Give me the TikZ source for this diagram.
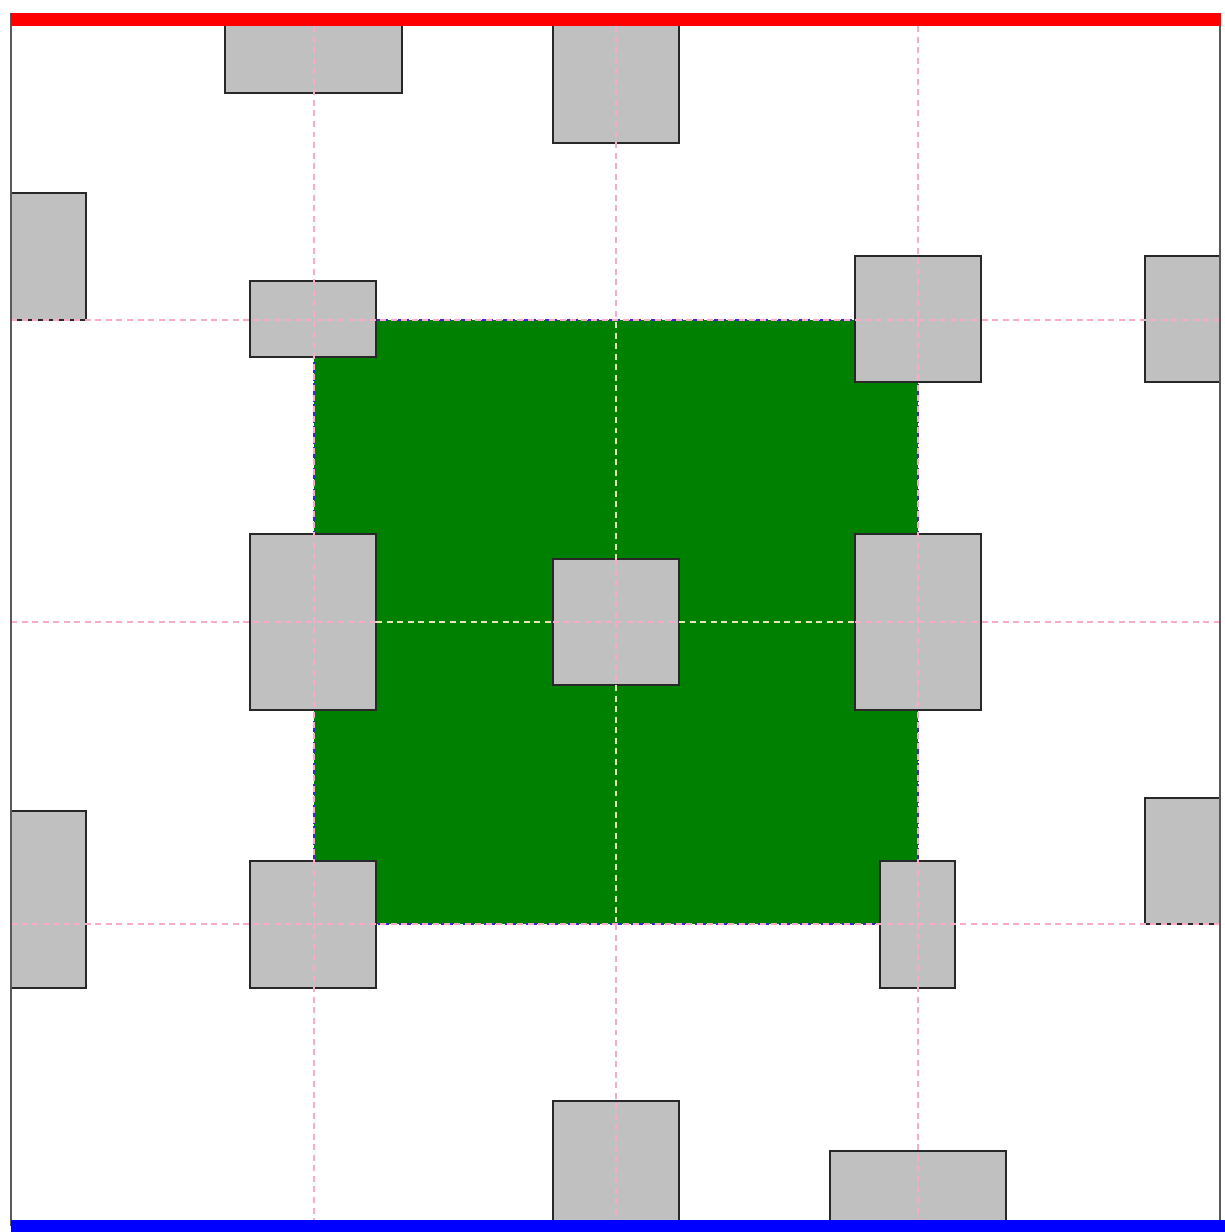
\documentclass[tikz,border=0pt]{standalone}
\definecolor{boxgray}{RGB}{192,192,192}
\definecolor{boxline}{RGB}{40,40,40}
\definecolor{gridpink}{RGB}{250,170,200}
\definecolor{palegrid}{RGB}{225,235,185}
\definecolor{framegray}{RGB}{90,90,90}
\definecolor{sqgreen}{RGB}{0,128,0}
\definecolor{sqborder}{RGB}{60,40,200}
\begin{document}
\begin{tikzpicture}[x=0.01cm,y=-0.01cm,
  graybox/.style={fill=boxgray,draw=boxline,line width=0.35pt},
  gridline/.style={draw=gridpink,line width=0.35pt,dash pattern=on 1.7pt off 1.3pt},
  paleline/.style={draw=palegrid,line width=0.5pt,dash pattern=on 1.7pt off 1.3pt},
  framel/.style={draw=framegray,line width=0.45pt}]
\useasboundingbox (0,0) rectangle (1225,1232);
\fill[white] (0,0) rectangle (1225,1232);
% green square
\fill[sqgreen] (314,320) rectangle (918,924);
\draw[sqborder,line width=0.35pt,dash pattern=on 1.2pt off 0.8pt] (314,320) rectangle (918,924);
% gray boxes
\draw[graybox] (225,18) rectangle (402,93);
\draw[graybox] (553,18) rectangle (679,143);
\draw[graybox] (11,193) rectangle (86,320);
\draw[graybox] (250,281) rectangle (376,357);
\draw[graybox] (855,256) rectangle (981,382);
\draw[graybox] (1145,256) rectangle (1220,382);
\draw[graybox] (250,534) rectangle (376,710);
\draw[graybox] (553,559) rectangle (679,685);
\draw[graybox] (855,534) rectangle (981,710);
\draw[graybox] (11,811) rectangle (86,988);
\draw[graybox] (250,861) rectangle (376,988);
\draw[graybox] (880,861) rectangle (955,988);
\draw[graybox] (1145,798) rectangle (1220,924);
\draw[graybox] (553,1101) rectangle (679,1226);
\draw[graybox] (830,1151) rectangle (1006,1226);
% grid lines
\foreach \x in {314,918} \draw[gridline] (\x,26) -- (\x,1220);
\foreach \y in {320,924} \draw[gridline] (11,\y) -- (1220,\y);
\draw[gridline] (616,26) -- (616,320);
\draw[paleline] (616,322) -- (616,559);
\draw[gridline] (616,559) -- (616,685);
\draw[paleline] (616,685) -- (616,922);
\draw[gridline] (616,924) -- (616,1220);
\draw[gridline] (11,622) -- (376,622);
\draw[paleline] (376,622) -- (553,622);
\draw[gridline] (553,622) -- (679,622);
\draw[paleline] (679,622) -- (855,622);
\draw[gridline] (855,622) -- (1220,622);
% bars and frame
\draw[framel] (11,13) -- (11,1226);
\draw[framel] (1220,13) -- (1220,1226);
\fill[red] (11,13) rectangle (1221,26);
\fill[blue] (11,1220) rectangle (1225,1232);
\end{tikzpicture}
\end{document}
